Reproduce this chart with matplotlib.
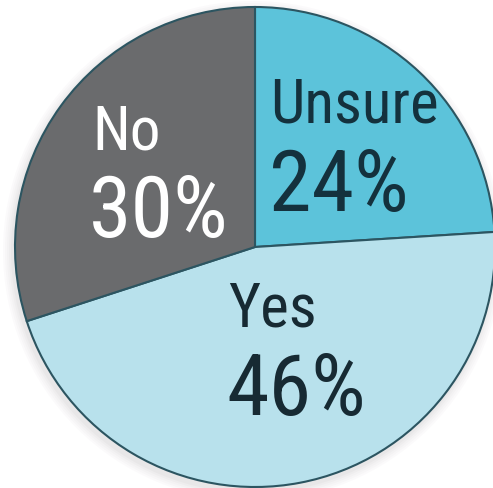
import matplotlib
matplotlib.use("Agg")
import matplotlib.pyplot as plt
from matplotlib.patches import Circle

labels = ["Unsure", "Yes", "No"]
values = [24, 46, 30]
colors = ["#5cc3da", "#b8e1ec", "#6a6b6d"]
text_colors = ["#14313d", "#172a33", "#ffffff"]

fam = ["Roboto Condensed", "Archivo Narrow", "DejaVu Sans"]

W, H = 493, 489
fig = plt.figure(figsize=(W / 100, H / 100), dpi=100)
ax = fig.add_axes([0, 0, 1, 1])

cx, cy, r = 255, H - 248, 240

# soft shadow
for i, a in enumerate([0.03, 0.03, 0.03, 0.04, 0.05]):
    ax.add_patch(Circle((cx - 2, cy - 4), r + 10 - 2 * i, color="#8a7f80", alpha=a, lw=0, zorder=0))

ax.pie(values, colors=colors, startangle=90, counterclock=False,
       center=(cx, cy), radius=r, frame=True,
       wedgeprops=dict(edgecolor="#2c5561", linewidth=1.5))
ax.set_xlim(0, W)
ax.set_ylim(0, H)
ax.set_aspect("equal")
ax.axis("off")

# text positions in pixel coords (x left, baseline y)
pos = {
    "Unsure": ((270, 123), (269, 211)),
    "Yes": ((228, 327), (226, 415)),
    "No": ((92, 150), (89, 237)),
}
for lab, val, tc in zip(labels, values, text_colors):
    (lx, ly), (px, py) = pos[lab]
    ax.text(lx, H - ly, lab, color=tc, fontsize=44, family=fam,
            ha="left", va="baseline")
    ax.text(px, H - py, f"{val}%", color=tc, fontsize=62, family=fam,
            ha="left", va="baseline")

fig.savefig("out.png", dpi=100, facecolor="white")
